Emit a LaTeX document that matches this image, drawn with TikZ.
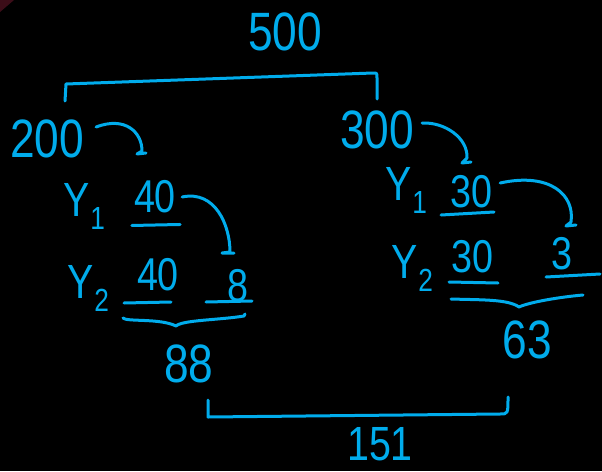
\documentclass[tikz,border=0pt]{standalone}
\usepackage{fontspec}
\setmainfont{Liberation Sans}[FakeStretch=0.82]
\definecolor{hb}{RGB}{0,172,236}
\definecolor{smudge}{RGB}{110,25,45}
\begin{document}
\begin{tikzpicture}[x=1pt,y=-1pt,
  ink/.style={draw=hb,line width=3pt,line cap=round,line join=round},
  big/.style={text=hb,inner sep=0pt,font=\fontsize{54}{54}\selectfont},
  mid/.style={text=hb,inner sep=0pt,font=\fontsize{46}{46}\selectfont},
  yl/.style={text=hb,inner sep=0pt,font=\fontsize{48}{48}\selectfont}]
\fill[black] (0,0) rectangle (602,471);
\useasboundingbox (0,0) rectangle (602,471);
\fill[smudge,opacity=0.55] (0,0) -- (14,0) -- (0,12) -- cycle;
\newcommand{\ysub}[2]{Y\kern1pt\raisebox{-13pt}{\fontsize{32}{32}\selectfont #2}}
% nodes
\node[big] (n500) at (285,32) {500};
\node[big] (n200) at (47,139) {200};
\node[big] (n300) at (377,130) {300};
\node[yl]  (ly1)  at (84,206) {\ysub{Y}{1}};
\node[mid] (l40a) at (155,197) {40};
\node[yl]  (ly2)  at (88,288) {\ysub{Y}{2}};
\node[mid] (l40b) at (158,275) {40};
\node[mid] (l8)   at (238,286) {8};
\node[big] (n88)  at (189,364) {88};
\node[yl]  (ry1)  at (406,190) {\ysub{Y}{1}};
\node[mid] (r30a) at (471,192) {30};
\node[yl]  (ry2)  at (412,268) {\ysub{Y}{2}};
\node[mid] (r30b) at (472,257) {30};
\node[mid] (r3)   at (562,254) {3};
\node[big] (n63)  at (527,340) {63};
\node[big,font=\fontsize{48}{48}\selectfont] (n151) at (380,444) {151};
% top bracket 200 -- 300
\coordinate (tbl) at (65,101);
\coordinate (tbr) at (377,99);
\draw[ink] (tbl) -- (66,84) -- (373,73) .. controls (377,73) .. (377,78) -- (tbr);
% bottom bracket 88 -- 63
\coordinate (bbl) at (208,400);
\coordinate (bbr) at (508,397);
\draw[ink] (bbl) -- (208,417) -- (500,414) .. controls (508,414) .. (bbr);
% arrows
\coordinate (a1) at (142,151);
\draw[ink] ([shift={(12,-12)}]n200.east) .. controls (125,116) and (142,132) .. (a1) -- (137,154) -- (146,153);
\coordinate (a2) at (467,158);
\draw[ink] ([shift={(8,-7)}]n300.east) .. controls (445,122) and (468,138) .. (a2) -- (462,163) -- (471,162);
\coordinate (a3) at (230,252);
\draw[ink] ([shift={(6,0)}]l40a.east) .. controls (215,190) and (230,225) .. (a3) -- (222,253) -- (234,253);
\coordinate (a4) at (571,222);
\draw[ink] ([shift={(8,-9)}]r30a.east) .. controls (550,172) and (575,195) .. (a4) -- (566,226) -- (576,225);
% underlines
\draw[ink] ([shift={(-2,12)}]l40a.south west) -- ([shift={(4,11)}]l40a.south east);
\draw[ink] (124,303) -- (171,302);
\draw[ink] (206,302) -- (252,301);
\draw[ink] (441,215) -- (494,212);
\draw[ink] (449,282) -- (498,283);
\draw[ink] (546,277) -- (600,274);
% braces
\draw[ink] (123,318) .. controls (126,322) and (160,318) .. (176,326) .. controls (182,320) and (220,320) .. (244,316) -- (245,314);
\draw[ink] (451,299) .. controls (480,300) and (508,299) .. (519,307) .. controls (530,302) and (560,297) .. (583,295);
\end{tikzpicture}
\end{document}
